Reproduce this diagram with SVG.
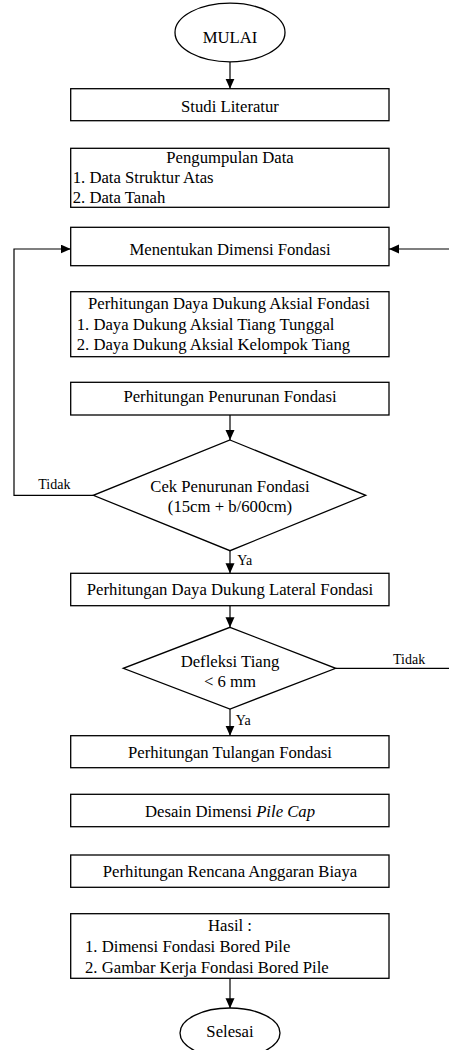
<svg xmlns="http://www.w3.org/2000/svg" width="449" height="1050" viewBox="0 0 449 1050" font-family="'Liberation Serif', 'Times New Roman', serif">
<style>
.n{fill:#fff;stroke:#000;stroke-width:1.3}
.c{fill:none;stroke:#000;stroke-width:1.2}
text{font-size:16.7px;fill:#000}
.m{text-anchor:middle}
.l{font-size:14px}
</style>
<defs>
<marker id="ah" markerUnits="userSpaceOnUse" markerWidth="10" markerHeight="10" refX="10" refY="4.5" orient="auto">
<path d="M0,0 L10,4.5 L0,9 z" fill="#000"/>
</marker>
</defs>
<rect width="449" height="1050" fill="#fff"/>
<g id="connectors">
<line class="c" x1="230" y1="62" x2="230" y2="88.7" marker-end="url(#ah)"/>
<line class="c" x1="230" y1="415" x2="230" y2="440" marker-end="url(#ah)"/>
<line class="c" x1="230" y1="550.7" x2="230" y2="573.3" marker-end="url(#ah)"/>
<line class="c" x1="230" y1="605.7" x2="230" y2="627.3" marker-end="url(#ah)"/>
<line class="c" x1="230" y1="709" x2="230" y2="735.7" marker-end="url(#ah)"/>
<line class="c" x1="230" y1="978.3" x2="230" y2="1008.3" marker-end="url(#ah)"/>
<path class="c" d="M93.3,495.3 H14 V249 H70.7" marker-end="url(#ah)"/>
<path class="c" d="M335.7,668.3 H451 V249 H389" marker-end="url(#ah)"/>
<text class="l" x="38.3" y="489.3">Tidak</text>
<text class="l" x="393" y="664.3">Tidak</text>
<text class="l" x="237.3" y="565">Ya</text>
<text class="l" x="235.7" y="725">Ya</text>
</g>
<g id="mulai">
<ellipse class="n" cx="230" cy="32.5" rx="55" ry="29.3"/>
<text class="m" x="230" y="42.7">MULAI</text>
</g>
<g id="studi">
<rect class="n" x="70.7" y="88.7" width="318.3" height="32"/>
<text class="m" x="230" y="111.7">Studi Literatur</text>
</g>
<g id="pengumpulan">
<rect class="n" x="70.7" y="148.3" width="318.3" height="59"/>
<text class="m" x="230" y="163">Pengumpulan Data</text>
<text x="72.7" y="183">1. Data Struktur Atas</text>
<text x="72.7" y="203">2. Data Tanah</text>
</g>
<g id="dimensi">
<rect class="n" x="70.7" y="227.3" width="318.3" height="38.4"/>
<text class="m" x="230" y="254.5">Menentukan Dimensi Fondasi</text>
</g>
<g id="aksial">
<rect class="n" x="70.7" y="291.7" width="318.3" height="65"/>
<text class="m" x="229" y="309.3">Perhitungan Daya Dukung Aksial Fondasi</text>
<text x="76.7" y="329.8">1. Daya Dukung Aksial Tiang Tunggal</text>
<text x="76.7" y="350">2. Daya Dukung Aksial Kelompok Tiang</text>
</g>
<g id="penurunan">
<rect class="n" x="70.7" y="382.3" width="318.3" height="32.7"/>
<text class="m" x="230" y="402">Perhitungan Penurunan Fondasi</text>
</g>
<g id="cek">
<polygon class="n" points="230,440 365.7,495.3 230,550.7 93.3,495.3"/>
<text class="m" x="230" y="492">Cek Penurunan Fondasi</text>
<text class="m" x="230" y="511.7">(15cm + b/600cm)</text>
</g>
<g id="lateral">
<rect class="n" x="70.7" y="573.3" width="318.3" height="32.4"/>
<text class="m" x="230" y="595">Perhitungan Daya Dukung Lateral Fondasi</text>
</g>
<g id="defleksi">
<polygon class="n" points="230,627.3 335.7,668.3 230,709 123.3,668.3"/>
<text class="m" x="230" y="666.7">Defleksi Tiang</text>
<text class="m" x="230" y="687.3">&lt; 6 mm</text>
</g>
<g id="tulangan">
<rect class="n" x="70.7" y="735.7" width="318.3" height="32"/>
<text class="m" x="230" y="757.7">Perhitungan Tulangan Fondasi</text>
</g>
<g id="pilecap">
<rect class="n" x="70.7" y="794.3" width="318.3" height="32.4"/>
<text class="m" x="230" y="816.7">Desain Dimensi <tspan font-style="italic">Pile Cap</tspan></text>
</g>
<g id="rab">
<rect class="n" x="70.7" y="855" width="318.3" height="32.3"/>
<text class="m" x="230" y="877.3">Perhitungan Rencana Anggaran Biaya</text>
</g>
<g id="hasil">
<rect class="n" x="70.7" y="913.7" width="318.3" height="64.6"/>
<text class="m" x="230" y="930.7">Hasil :</text>
<text x="85" y="951.7">1. Dimensi Fondasi Bored Pile</text>
<text x="85" y="973">2. Gambar Kerja Fondasi Bored Pile</text>
</g>
<g id="selesai">
<ellipse class="n" cx="230" cy="1033" rx="50" ry="25"/>
<text class="m" x="230" y="1037.3">Selesai</text>
</g>
</svg>
